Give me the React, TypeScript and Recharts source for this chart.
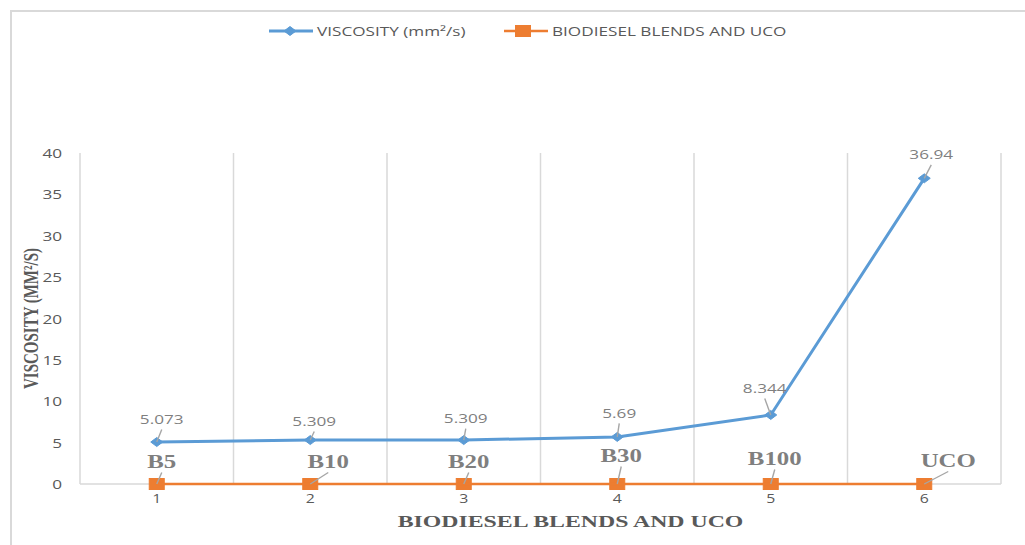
import React from 'react';
import { LineChart, Line, XAxis, YAxis, ReferenceLine, Legend, LabelList, Label } from 'recharts';

// Blend names and their measured kinematic viscosity
const categories = ['B5', 'B10', 'B20', 'B30', 'B100', 'UCO'];
const positionTicks = [1, 2, 3, 4, 5, 6];
const viscosity = [5.073, 5.309, 5.309, 5.69, 8.344, 36.94];
const blendBaseline = [0, 0, 0, 0, 0, 0];
const yTicks = [0, 5, 10, 15, 20, 25, 30, 35, 40];

const data = categories.map((name, i) => ({
  pos: positionTicks[i],
  name,
  viscosity: viscosity[i],
  blend: blendBaseline[i],
}));

// Cell boundaries between categories (grid lines sit between the points)
const boundaries = [0.5, ...positionTicks.map((p) => p + 0.5)];

// Label text centre offsets (px) from each point
const viscosityLabelOffsets = [[5, -23], [4, -19], [2, -22], [2, -24], [-6, -27], [7, -24]];
const blendLabelOffsets = [[5, -22], [18, -22], [5, -22], [4, -28], [4, -25], [24, -23]];

const BLUE = '#5b9bd5';
const ORANGE = '#ed7d31';
const GRID = '#d9d9d9';
const SANS = '"Open Sans", "Liberation Sans", sans-serif';
const SERIF = '"Liberation Serif", "DejaVu Serif", serif';
const SX = 1.32;

type STProps = {
  x: number;
  y: number;
  size: number;
  fill: string;
  family: string;
  weight?: number | string;
  anchor?: 'start' | 'middle' | 'end';
  sx?: number;
  rotate?: number;
  children: React.ReactNode;
};

const StretchText = ({ x, y, size, fill, family, weight = 'normal', anchor = 'middle', sx = SX, rotate = 0, children }: STProps) => (
  <g transform={`translate(${x},${y}) scale(${sx},1) rotate(${rotate})`}>
    <text
      x={0}
      y={0}
      textAnchor={anchor}
      dominantBaseline="central"
      fontSize={size}
      fill={fill}
      fontFamily={family}
      fontWeight={weight}
    >
      {children}
    </text>
  </g>
);

const Diamond = ({ cx, cy }: { cx: number; cy: number }) => (
  <polygon points={`${cx - 6},${cy} ${cx},${cy - 4.5} ${cx + 6},${cy} ${cx},${cy + 4.5}`} fill={BLUE} stroke={BLUE} strokeWidth={1} />
);

const Square = ({ cx, cy }: { cx: number; cy: number }) => (
  <rect x={cx - 7.5} y={cy - 5.5} width={15} height={11} fill={ORANGE} stroke={ORANGE} strokeWidth={1} />
);

const makeLabel = (offsets: number[][], serif: boolean) => (props: any) => {
  const { x, y, value, index } = props;
  if (x == null || y == null) return null;
  const [dx, dy] = offsets[index] || [0, -20];
  return (
    <g key={`lbl-${index}`}>
      <line x1={x} y1={y} x2={x + dx} y2={y + dy + 10.5} stroke="#a6a6a6" strokeWidth={1.4} />
      {serif ? (
        <StretchText x={x + dx} y={y + dy} size={18} fill="#7f7f7f" family={SERIF} weight="bold" sx={1.38}>
          {value}
        </StretchText>
      ) : (
        <StretchText x={x + dx} y={y + dy} size={13} fill="#7f7f7f" family={SANS}>
          {value}
        </StretchText>
      )}
    </g>
  );
};

// Legend item left edges, keyed by series
const legendItemX: Record<string, number> = { viscosity: 269, blend: 504 };

const renderLegend = (props: any) => {
  const payload = props.payload || [];
  return (
    <svg width={1025} height={24} style={{ display: 'block' }}>
      {payload.map((entry: any, i: number) => {
        const isBlue = entry.dataKey === 'viscosity';
        const x0 = legendItemX[entry.dataKey] ?? 269;
        const mid = x0 + 22;
        return (
          <g key={`leg-${i}`}>
            <line x1={x0} x2={x0 + 44} y1={12} y2={12} stroke={entry.color} strokeWidth={isBlue ? 3 : 2.5} />
            {isBlue ? <Diamond cx={mid - 1} cy={12} /> : <Square cx={mid - 3} cy={12} />}
            <StretchText x={x0 + 48} y={12} size={13} fill="#595959" family={SANS} anchor="start">
              {entry.value}
            </StretchText>
          </g>
        );
      })}
    </svg>
  );
};

const XTick = (props: any) => {
  const { x, y, payload } = props;
  return (
    <StretchText x={x} y={y} size={12} fill="#595959" family={SANS}>
      {payload.value}
    </StretchText>
  );
};

const YTick = (props: any) => {
  const { x, y, payload } = props;
  return (
    <StretchText x={x} y={y} size={13} fill="#595959" family={SANS} anchor="end">
      {payload.value}
    </StretchText>
  );
};

const XTitle = (props: any) => {
  const vb = props.viewBox || {};
  return (
    <StretchText x={vb.x + vb.width / 2 + 30} y={vb.y + 37} size={17} fill="#595959" family={SERIF} weight="bold" sx={1.4}>
      BIODIESEL BLENDS AND UCO
    </StretchText>
  );
};

const YTitle = (props: any) => {
  const vb = props.viewBox || {};
  return (
    <StretchText x={vb.x + 10} y={vb.y + vb.height / 2} size={15} fill="#595959" family={SERIF} weight="bold" sx={1.45} rotate={-90}>
      VISCOSITY (MM²/S)
    </StretchText>
  );
};

export default function App() {
  return (
    <div style={{ position: 'absolute', left: 0, top: 0, width: 1025, height: 545, overflow: 'hidden', background: '#fff' }}>
      <div
        style={{
          position: 'absolute',
          left: 10,
          top: 10,
          width: 1040,
          height: 560,
          border: `2px solid ${GRID}`,
          boxSizing: 'border-box',
        }}
      />
      <div style={{ position: 'absolute', left: 0, top: 0 }}>
        <LineChart width={1025} height={545} data={data} margin={{ top: 153, right: 24, bottom: 21, left: 20 }}>
          <XAxis
            dataKey="pos"
            type="number"
            domain={[0.5, 6.5]}
            ticks={positionTicks}
            axisLine={{ stroke: GRID, strokeWidth: 1.5 }}
            tickLine={false}
            tickSize={4}
            tickMargin={10}
            height={40}
            tick={<XTick />}
            interval={0}
            zIndex={-50}
          >
            <Label content={<XTitle />} />
          </XAxis>
          <YAxis
            domain={[0, 40]}
            ticks={yTicks}
            axisLine={false}
            tickLine={false}
            tickSize={8}
            tickMargin={10}
            width={60}
            tick={<YTick />}
            interval={0}
          >
            <Label content={<YTitle />} />
          </YAxis>
          {boundaries.map((b) => (
            <ReferenceLine key={`grid-${b}`} x={b} stroke={GRID} strokeWidth={1.5} zIndex={-60} />
          ))}
          <Legend
            layout="horizontal"
            verticalAlign="middle"
            align="center"
            itemSorter={null}
            content={renderLegend}
            wrapperStyle={{ top: 19, left: 0, width: 1025, height: 24 }}
          />
          <Line
            dataKey="viscosity"
            name="VISCOSITY (mm²/s)"
            stroke={BLUE}
            strokeWidth={3}
            isAnimationActive={false}
            dot={(p: any) => <Diamond key={`d-${p.index}`} cx={p.cx} cy={p.cy} />}
            activeDot={false}
            zIndex={700}
          >
            <LabelList dataKey="viscosity" content={makeLabel(viscosityLabelOffsets, false)} />
          </Line>
          <Line
            dataKey="blend"
            name="BIODIESEL BLENDS AND UCO"
            stroke={ORANGE}
            strokeWidth={2.5}
            isAnimationActive={false}
            dot={(p: any) => <Square key={`s-${p.index}`} cx={p.cx} cy={p.cy} />}
            activeDot={false}
            zIndex={700}
          >
            <LabelList dataKey="name" content={makeLabel(blendLabelOffsets, true)} />
          </Line>
        </LineChart>
      </div>
    </div>
  );
}
